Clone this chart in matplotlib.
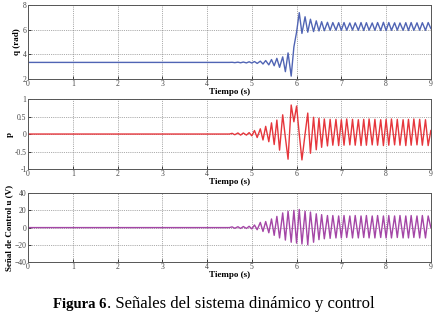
import numpy as np
import matplotlib
matplotlib.use('Agg')
import matplotlib.pyplot as plt

# instants of the oscillation extrema (s)
t_osc = [4.50, 4.56, 4.62, 4.69, 4.75, 4.81, 4.88, 4.94,
         5.00, 5.06, 5.12, 5.19, 5.25, 5.31, 5.38, 5.44,
         5.50, 5.56, 5.62, 5.69, 5.75, 5.81, 5.88, 5.94,
         6.00, 6.06, 6.12, 6.19, 6.25, 6.31, 6.38, 6.44,
         6.50, 6.56, 6.62, 6.69, 6.75, 6.81, 6.88, 6.94,
         7.00, 7.06, 7.12, 7.19, 7.25, 7.31, 7.38, 7.44,
         7.50, 7.56, 7.62, 7.69, 7.75, 7.81, 7.88, 7.94,
         8.00, 8.06, 8.12, 8.19, 8.25, 8.31, 8.38, 8.44,
         8.50, 8.56, 8.62, 8.69, 8.75, 8.81, 8.88, 8.94,
         9.00]

q_start = 3.35
q_osc = [3.35, 3.36, 3.33, 3.37, 3.32, 3.38, 3.31, 3.40,
         3.30, 3.42, 3.27, 3.45, 3.22, 3.50, 3.15, 3.58,
         3.08, 3.68, 2.95, 3.80, 2.60, 4.12, 2.24, 4.60,
         5.80, 7.38, 5.70, 7.05, 5.80, 6.85, 5.85, 6.72,
         5.90, 6.65, 5.92, 6.60, 5.95, 6.58, 5.96, 6.57,
         5.95, 6.58, 5.96, 6.55, 5.97, 6.56, 5.95, 6.58,
         5.94, 6.57, 5.96, 6.55, 5.95, 6.58, 5.94, 6.60,
         5.93, 6.58, 5.95, 6.56, 5.96, 6.55, 5.95, 6.57,
         5.94, 6.58, 5.95, 6.56, 5.96, 6.57, 5.95, 6.58,
         6.10]

p_start = 0.0
p_osc = [0.00, 0.02, -0.02, 0.03, -0.03, 0.03, -0.03, 0.04,
         -0.05, 0.10, -0.10, 0.15, -0.17, 0.22, -0.22, 0.32,
         -0.30, 0.40, -0.46, 0.55, -0.10, -0.72, 0.83, 0.35,
         0.80, 0.00, -0.74, 0.00, 0.60, -0.55, 0.48, -0.45,
         0.45, -0.38, 0.43, -0.34, 0.42, -0.32, 0.42, -0.33,
         0.41, -0.32, 0.43, -0.31, 0.42, -0.32, 0.41, -0.33,
         0.42, -0.32, 0.43, -0.31, 0.42, -0.32, 0.41, -0.33,
         0.42, -0.32, 0.43, -0.31, 0.42, -0.32, 0.41, -0.33,
         0.42, -0.32, 0.43, -0.31, 0.42, -0.32, 0.41, -0.33,
         0.10]

u_start = 0.0
u_osc = [0.0, 0.8, -0.8, 1.0, -1.0, 1.2, -1.0, 1.5,
         -1.5, 3.0, -2.5, 6.0, -4.5, 7.0, -6.0, 10.0,
         -9.0, 13.0, -12.0, 17.0, -14.5, 19.0, -17.0, 20.0,
         -18.0, 21.0, -19.0, 19.0, -20.0, 18.0, -17.0, 16.0,
         -14.0, 15.0, -13.0, 14.0, -12.5, 14.0, -12.0, 13.5,
         -12.0, 14.0, -11.5, 13.5, -12.0, 14.0, -12.0, 13.5,
         -11.5, 14.0, -12.0, 13.5, -12.0, 14.0, -11.5, 13.5,
         -12.0, 14.0, -12.0, 13.5, -11.5, 14.0, -12.0, 13.5,
         -12.0, 14.0, -11.5, 13.5, -12.0, 14.0, -12.0, 13.5,
         0.0]

x_ticks = [0, 1, 2, 3, 4, 5, 6, 7, 8, 9]
q_ticks = [2, 4, 6, 8]
p_ticks = [-1, -0.5, 0, 0.5, 1]
p_ticklabels = ['-1', '-0.5', '0', '0.5', '1']
u_ticks = [-40, -20, 0, 20, 40]

serif = 'Liberation Serif'

fig = plt.figure(figsize=(4.36, 3.15), dpi=100)
ax1 = fig.add_axes([0.0642, 0.749, 0.924, 0.235])
ax2 = fig.add_axes([0.0642, 0.4635, 0.924, 0.222])
ax3 = fig.add_axes([0.0642, 0.168, 0.924, 0.219])

panels = [
    (ax1, q_start, q_osc, '#5064b4', 'q (rad)', (2, 8), q_ticks, None),
    (ax2, p_start, p_osc, '#e6363c', 'p', (-1, 1), p_ticks, p_ticklabels),
    (ax3, u_start, u_osc, '#a446a6', 'Señal de Control u (V)', (-40, 40), u_ticks, None),
]

for ax, y0, yv, col, lab, ylim, yt, ytl in panels:
    tt = [0.0] + t_osc
    yy = [y0] + yv
    ax.plot(tt, yy, color=col, lw=1.0)
    ax.set_xlim(0, 9)
    ax.set_ylim(*ylim)
    ax.set_xticks(x_ticks)
    ax.set_yticks(yt)
    if ytl is not None:
        ax.set_yticklabels(ytl)
    ax.grid(True, color='#777777', ls=(0, (1.2, 1.5)), lw=0.5)
    ax.tick_params(direction='in', length=2, width=0.5, pad=1,
                   labelsize=5.5, labelcolor='#444444')
    for lbl in ax.get_xticklabels() + ax.get_yticklabels():
        lbl.set_family(serif)
    for s in ax.spines.values():
        s.set_linewidth(0.7)
        s.set_color('#555555')
    ax.set_xlabel('Tiempo (s)', family=serif, fontweight='bold',
                  fontsize=6.5, labelpad=0)
    ax.set_ylabel(lab, family=serif, fontweight='bold', fontsize=6.5,
                  labelpad=1)

fig.text(0.245, 0.022, 'Figura 6', family=serif, fontweight='bold',
         fontsize=10.5, ha='right', va='baseline')
fig.text(0.245, 0.022, '. Señales del sistema dinámico y control',
         family=serif, fontsize=12, ha='left', va='baseline')

plt.savefig('out.png', dpi=100)
